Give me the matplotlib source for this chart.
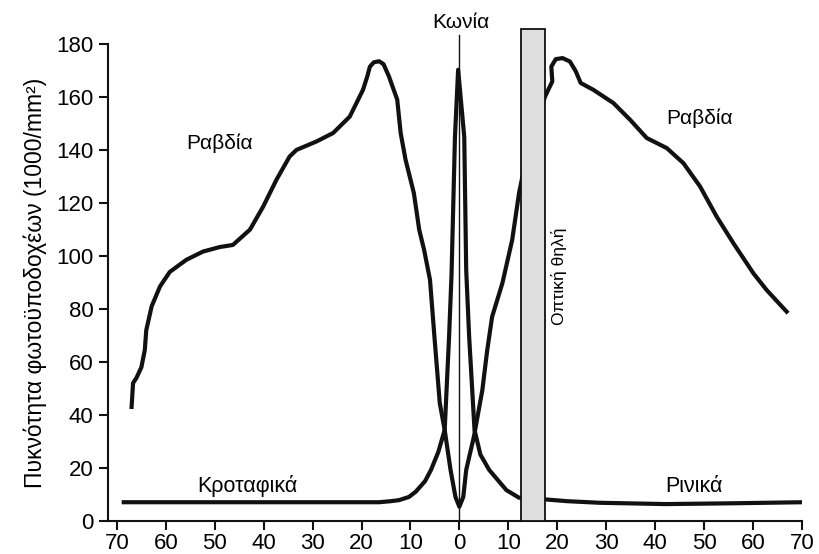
import matplotlib
matplotlib.use("Agg")
import matplotlib.pyplot as plt
from matplotlib.patches import Rectangle

plt.rcParams['font.family'] = ['Liberation Sans', 'DejaVu Sans']

# eccentricity (deg, temporal negative) and density (1000/mm2)
rod_x = [-67.0, -66.7, -66.0, -65.0, -64.3, -64.0, -62.9, -61.2, -59.2, -55.8,
         -52.4, -49.0, -46.3, -42.8, -40.1, -37.4, -34.7, -33.3, -29.2, -25.8,
         -22.4, -19.7, -18.8, -18.3, -17.5, -16.4, -15.5, -14.4, -12.7, -12.0,
         -11.0, -9.3, -8.2, -7.2, -6.0, -5.1, -4.0, -3.0, -1.8, -0.8, 0.0,
         0.8, 1.4, 3.0, 4.7, 5.7, 6.7, 8.8, 10.8, 12.2,
         14.0, 16.0, 17.5, 19.0, 18.8, 19.7, 21.1, 22.6, 23.8, 24.8,
         27.4, 31.5, 34.9, 38.3, 42.4, 45.8, 49.2, 52.6, 56.0, 60.1,
         62.8, 66.9]
rod_y = [43.0, 52.0, 54.0, 58.0, 64.5, 72.0, 81.0, 88.5, 94.0, 98.6,
         101.7, 103.4, 104.2, 110.0, 118.7, 128.8, 137.6, 140.1, 143.3, 146.5,
         152.7, 162.8, 168.0, 171.5, 173.2, 173.6, 172.5, 167.9, 159.1, 146.5,
         136.4, 123.8, 109.9, 102.3, 91.0, 69.6, 44.4, 34.3, 19.2, 9.0, 5.3,
         9.0, 19.2, 32.0, 49.4, 64.5, 77.1, 89.8, 106.1, 123.8,
         140.0, 152.0, 160.2, 166.0, 171.6, 174.4, 174.8, 173.5, 169.8, 165.4,
         162.8, 157.8, 151.5, 144.6, 140.8, 135.1, 126.3, 114.9, 104.9, 93.5,
         87.2, 79.0]

cone_x = [-68.6, -50.0, -30.0, -20.0, -16.4, -14.0, -12.3, -10.3, -8.9, -7.0,
          -5.8, -4.3, -3.0, -2.1, -1.6, -0.9, -0.25, 1.0, 1.4, 2.0,
          3.1, 4.3, 6.1, 9.6, 12.2, 15.0, 17.3, 22.0, 28.6, 42.2, 55.8, 70.1]
cone_y = [7.0, 7.0, 7.0, 7.0, 7.0, 7.4, 7.8, 9.0, 11.0, 15.0,
          19.2, 26.0, 34.3, 69.6, 93.0, 145.0, 170.4, 145.0, 94.7, 69.6,
          34.3, 25.0, 19.2, 11.6, 8.7, 8.3, 8.1, 7.4, 6.8, 6.3, 6.6, 7.0]

disc_x = (12.5, 17.5)
disc_top = 185.8

fig = plt.figure(figsize=(8.19, 5.54), dpi=100)
ax = fig.add_axes([0.132, 0.060, 0.847, 0.860])

ax.plot(rod_x, rod_y, color='#111111', lw=3.0, solid_joinstyle='round', zorder=3)
ax.plot(cone_x, cone_y, color='#111111', lw=3.0, solid_joinstyle='round', zorder=3)

# fovea marker line
ax.plot([0, 0], [0, 183.6], color='#111111', lw=1.0, clip_on=False, zorder=4)

# optic disc
ax.add_patch(Rectangle((disc_x[0], 0), disc_x[1] - disc_x[0], disc_top,
                       facecolor='#dedede', edgecolor='#111111', lw=1.3,
                       clip_on=False, zorder=5))

ax.text(0.3, 188.2, 'Κωνία', ha='center', va='center', fontsize=15)
ax.text(-49.1, 142.8, 'Ραβδία', ha='center', va='center', fontsize=15)
ax.text(49.1, 152.2, 'Ραβδία', ha='center', va='center', fontsize=15)
ax.text(-43.4, 13.1, 'Κροταφικά', ha='center', va='center', fontsize=15.5)
ax.text(48.0, 13.1, 'Ρινικά', ha='center', va='center', fontsize=15.5)
ax.text(20.3, 92.5, 'Οπτική θηλή', ha='center', va='center', fontsize=12.5,
        rotation=90)

ax.set_xlim(-71.8, 70)
ax.set_ylim(0, 180)
xt = list(range(-70, 71, 10))
ax.set_xticks(xt)
ax.set_xticklabels([str(abs(v)) for v in xt])
ax.set_yticks(range(0, 181, 20))
ax.set_ylabel('Πυκνότητα φωτοϋποδοχέων (1000/mm²)', fontsize=16.5, labelpad=7)

for s in ['top', 'right']:
    ax.spines[s].set_visible(False)
for s in ['left', 'bottom']:
    ax.spines[s].set_linewidth(1.5)
    ax.spines[s].set_color('#111111')
ax.tick_params(axis='both', length=6.5, width=1.5, labelsize=16, color='#111111')
ax.tick_params(axis='x', pad=2)
ax.tick_params(axis='y', pad=4)

fig.savefig('out.png', dpi=100)
